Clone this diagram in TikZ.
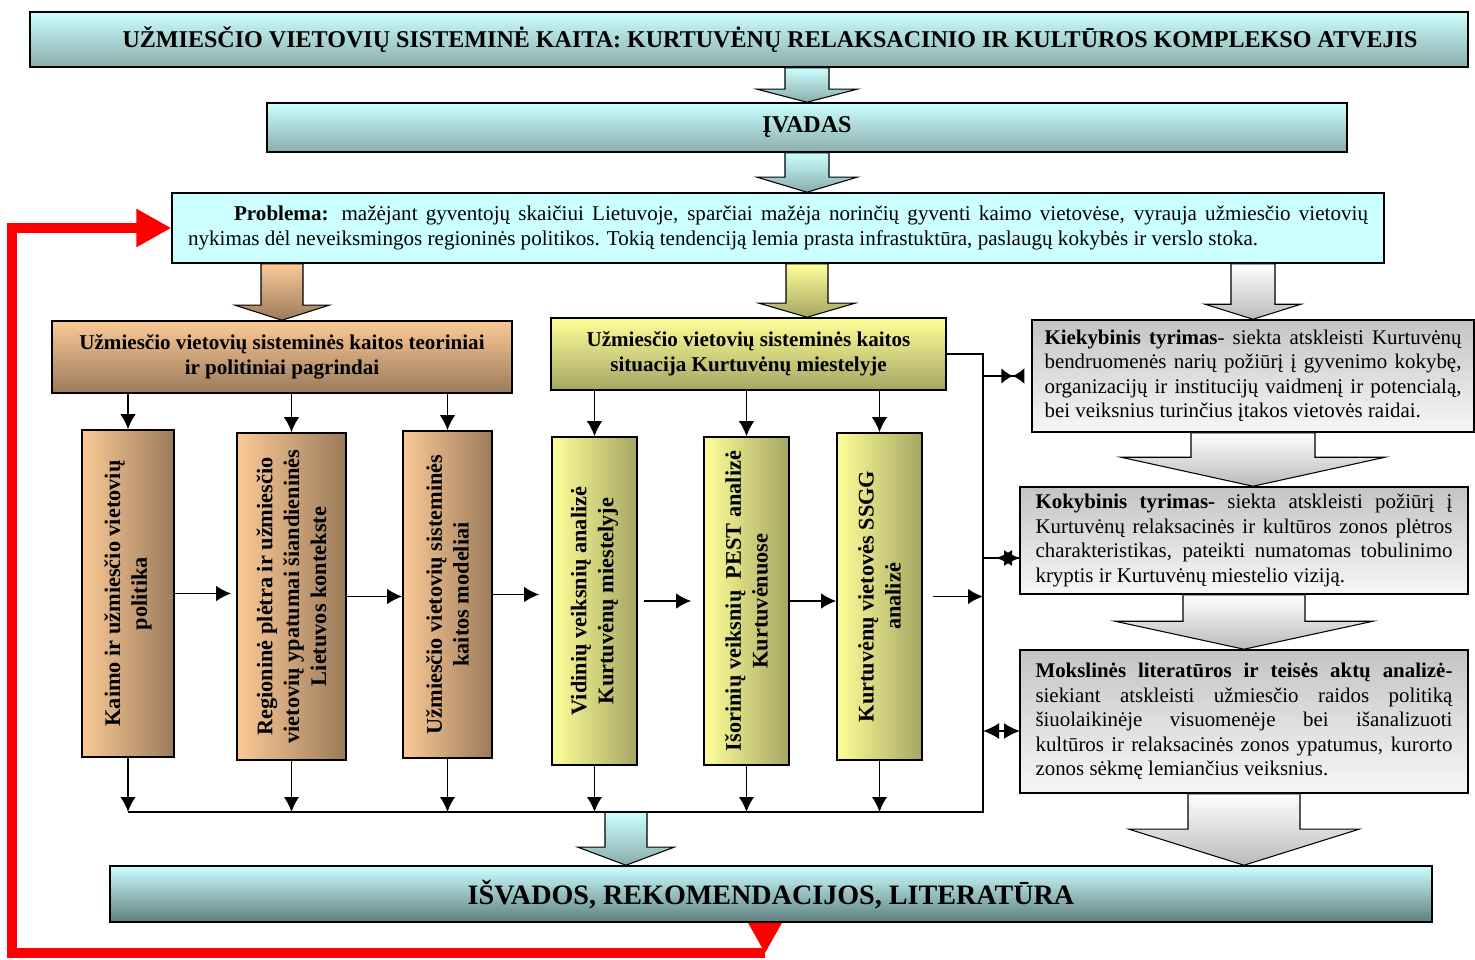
\documentclass[tikz,border=0pt]{standalone}
\usepackage{fontspec}
\setmainfont{Liberation Serif}
\usetikzlibrary{arrows.meta,calc}

\definecolor{cyanlt}{HTML}{CCFFFF}
\definecolor{cyandk}{HTML}{8AACAC}
\definecolor{cyandeep}{HTML}{5E7E7E}
\definecolor{brownlt}{HTML}{FBC996}
\definecolor{browndk}{HTML}{9B7B5B}
\definecolor{yellowlt}{HTML}{FFFF99}
\definecolor{yellowdk}{HTML}{A6A563}
\definecolor{graylt}{HTML}{F7F7F7}
\definecolor{graydk}{HTML}{C4C4C4}
\definecolor{fbred}{HTML}{FF0000}

% block arrow: style, start, tip, shaft half width, head half width, head length
\newcommand{\bigarrow}[6]{%
  \shade[#1] ($(#2)+(-#4,0)$) -- ($(#3)+(-#4,-#6)$) -- ($(#3)+(-#5,-#6)$) -- (#3)
    -- ($(#3)+(#5,-#6)$) -- ($(#3)+(#4,-#6)$) -- ($(#2)+(#4,0)$) -- cycle;}

\tikzset{
  box/.style={draw=black, line width=0.9pt, inner sep=0pt, align=center},
  cyanbox/.style={box, top color=cyanlt, bottom color=cyandk,
    font=\fontsize{13.7}{16}\selectfont\bfseries},
  hbrown/.style={box, top color=brownlt, bottom color=browndk,
    font=\fontsize{12}{14.2}\selectfont\bfseries},
  hyellow/.style={box, top color=yellowlt, bottom color=yellowdk,
    font=\fontsize{12}{14.2}\selectfont\bfseries},
  vbrown/.style={box, left color=brownlt, right color=browndk},
  vyellow/.style={box, left color=yellowlt, right color=yellowdk},
  vtext/.style={rotate=90, align=center, inner sep=0pt,
    font=\fontsize{12.7}{15.3}\selectfont\bfseries},
  rbox/.style={box, top color=graydk, bottom color=graylt, text width=8.34cm,
    align=justify, font=\fontsize{11.9}{13.9}\selectfont},
  conn/.style={line width=1.1pt, -{Latex[length=3mm,width=3.1mm]}},
  bus/.style={line width=1.1pt},
  bowtie/.style={line width=1.1pt, shorten >=1.4mm,
    -{Latex[length=2.3mm,width=3.2mm]Latex[reversed,length=2.3mm,width=3.2mm]}},
  twohead/.style={line width=1.1pt,
    {Latex[length=3.2mm,width=3.2mm]}-{Latex[length=3.2mm,width=3.2mm]}},
  feedback/.style={draw=fbred, line width=0.2cm, line join=miter,
    -{Triangle[length=0.7cm,width=0.72cm]}},
  cyanarrow/.style={draw=black, line width=0.6pt, top color=cyanlt, bottom color=cyandk},
  brownarrow/.style={draw=black, line width=0.6pt, top color=brownlt, bottom color=browndk},
  yellowarrow/.style={draw=black, line width=0.6pt, top color=yellowlt, bottom color=yellowdk},
  grayarrow/.style={draw=black, line width=0.6pt, top color=white, bottom color=black!27}
}

\begin{document}
\begin{tikzpicture}[x=0.02cm, y=-0.02cm]
\useasboundingbox (0,0) rectangle (1475,960);

% top row
\node[cyanbox, minimum width=28.76cm, minimum height=1.1cm] at (749, 39.5) (title)
  {\hspace*{0.84cm}UŽMIESČIO VIETOVIŲ SISTEMINĖ KAITA: KURTUVĖNŲ RELAKSACINIO IR KULTŪROS KOMPLEKSO ATVEJIS};
\node[cyanbox, minimum width=21.6cm, minimum height=0.98cm] at (807, 127.5) (ivadas) {ĮVADAS};
\node[box, fill=cyanlt, minimum width=24.24cm, minimum height=1.4cm, text width=23.6cm,
  align=justify, font=\fontsize{12}{14}\selectfont] at (778, 228) (problem)
  {\noindent\hspace*{0.92cm}\textbf{Problema:} mažėjant gyventojų skaičiui Lietuvoje, sparčiai mažėja norinčių gyventi kaimo vietovėse, vyrauja užmiesčio vietovių\linebreak nykimas dėl neveiksmingos regioninės politikos. Tokią tendenciją lemia prasta infrastuktūra, paslaugų kokybės ir verslo stoka.};

% headers
\node[hbrown, minimum width=9.2cm, minimum height=1.44cm] at (282, 357) (lhead)
  {Užmiesčio vietovių sisteminės kaitos teoriniai\\ir politiniai pagrindai};
\node[hyellow, minimum width=7.9cm, minimum height=1.44cm] at (748.5, 354) (mhead)
  {Užmiesčio vietovių sisteminės kaitos\\situacija Kurtuvėnų miestelyje};

% vertical boxes
\node[vbrown, minimum width=1.84cm, minimum height=6.54cm] at (128, 593.5) (b1) {};
\node[vbrown, minimum width=2.18cm, minimum height=6.54cm] at (291.5, 596.5) (b2) {};
\node[vbrown, minimum width=1.78cm, minimum height=6.54cm] at (447.5, 594.5) (b3) {};
\node[vyellow, minimum width=1.7cm, minimum height=6.56cm] at (594.5, 601) (y1) {};
\node[vyellow, minimum width=1.7cm, minimum height=6.56cm] at (746.5, 601) (y2) {};
\node[vyellow, minimum width=1.7cm, minimum height=6.54cm] at (879.5, 596.5) (y3) {};
\node[vtext] at (b1) (b1t) {Kaimo ir užmiesčio vietovių\\politika};
\node[vtext] at (b2) (b2t) {Regioninė plėtra ir užmiesčio\\vietovių ypatumai šiandieninės\\Lietuvos kontekste};
\node[vtext] at (b3) (b3t) {Užmiesčio vietovių sisteminės\\kaitos modeliai};
\node[vtext] at (y1) (y1t) {Vidinių veiksnių analizė\\Kurtuvėnų miestelyje};
\node[vtext] at (y2) (y2t) {Išorinių veiksnių\ \ PEST analizė\\Kurtuvėnuose};
\node[vtext] at (y3) (y3t) {Kurtuvėnų vietovės SSGG\\analizė};

% research boxes
\node[rbox, minimum width=8.84cm, minimum height=2.24cm] at (1253, 376) (r1)
  {\textbf{Kiekybinis tyrimas}- siekta atskleisti Kurtuvėnų\linebreak bendruomenės narių požiūrį į gyvenimo kokybę,\linebreak organizacijų ir institucijų vaidmenį ir potencialą,\linebreak bei veiksnius turinčius įtakos vietovės raidai.};
\node[rbox, minimum width=8.96cm, minimum height=2.14cm] at (1244, 540.5) (r2)
  {\textbf{Kokybinis tyrimas-} siekta atskleisti požiūrį į\linebreak Kurtuvėnų relaksacinės ir kultūros zonos plėtros\linebreak charakteristikas, pateikti numatomas tobulinimo\linebreak kryptis ir Kurtuvėnų miestelio viziją.};
\node[rbox, minimum width=8.96cm, minimum height=2.86cm] at (1244, 721.5) (r3)
  {\textbf{Mokslinės literatūros ir teisės aktų analizė-}\linebreak siekiant atskleisti užmiesčio raidos politiką\linebreak šiuolaikinėje visuomenėje bei išanalizuoti\linebreak kultūros ir relaksacinės zonos ypatumus, kurorto\linebreak zonos sėkmę lemiančius veiksnius.};

\node[cyanbox, bottom color=cyandeep, minimum width=26.44cm, minimum height=1.12cm,
  font=\fontsize{16}{19}\selectfont\bfseries] at (771, 894) (isv)
  {IŠVADOS, REKOMENDACIJOS, LITERATŪRA};

\coordinate (busbot) at (983, 812);
\coordinate (busmid) at (626, 812);
\coordinate (r2in) at (1020, 558);
\coordinate (r3in) at (1020, 731);
\coordinate (fbA) at (765, 953);
\coordinate (fbB) at (12, 228);
\coordinate (a1s) at (title.south -| ivadas.north);
\coordinate (a2t) at (problem.north -| ivadas.south);
\coordinate (a3s) at (problem.south -| lhead.north);
\coordinate (a4s) at (problem.south -| ivadas.south);
\coordinate (a4t) at (mhead.north -| ivadas.south);
\coordinate (a5s) at (problem.south -| r1.north);
\coordinate (a6t) at (r2.north -| r1.south);
\coordinate (a8t) at (isv.north -| r3.south);
\coordinate (a9t) at (isv.north -| busmid);
\coordinate (fbtop) at (isv.south -| fbA);

% block arrows
\bigarrow{cyanarrow}{a1s}{ivadas.north}{22}{50}{13}
\bigarrow{cyanarrow}{ivadas.south}{a2t}{22}{50}{15}
\bigarrow{brownarrow}{a3s}{lhead.north}{21}{47}{15}
\bigarrow{yellowarrow}{a4s}{a4t}{21}{48}{14}
\bigarrow{grayarrow}{a5s}{r1.north}{22}{48}{15}
\bigarrow{grayarrow}{r1.south}{a6t}{62}{132}{29}
\bigarrow{grayarrow}{r2.south}{r3.north}{61}{129}{28}
\bigarrow{grayarrow}{r3.south}{a8t}{56}{115}{36}
\bigarrow{cyanarrow}{busmid}{a9t}{21}{48}{18}

% thin connectors
\draw[bus] (mhead.east) -| (busbot) -- (busbot -| b1);
\path[conn]
  (lhead.south -| b1) edge (b1.north)
  (lhead.south -| b2) edge (b2.north)
  (lhead.south -| b3) edge (b3.north)
  (mhead.south -| y1) edge (y1.north)
  (mhead.south -| y2) edge (y2.north)
  (mhead.south -| y3) edge (y3.north)
  (b1.east) edge [shorten >=1mm] (b1.east -| b2.west)
  (b2.east) edge (b2.east -| b3.west)
  (b3.east) edge [shorten >=2.4mm] (b3.east -| y1.west)
  (y1.east) edge [shorten <=1.2mm, shorten >=2.4mm] (y1.east -| y2.west)
  (y2.east) edge (y2.east -| y3.west)
  (y3.east) edge [shorten <=2mm] (y3.east -| busbot)
  (b1.south) edge (b1.south |- busbot)
  (b2.south) edge (b2.south |- busbot)
  (b3.south) edge (b3.south |- busbot)
  (y1.south) edge (y1.south |- busbot)
  (y2.south) edge (y2.south |- busbot)
  (y3.south) edge (y3.south |- busbot);
\path (r1.west -| busbot) edge [bowtie] (r1.west);
\draw[bus] (r2in -| busbot) -- (r2in);
\path (r2in -| busbot) edge [twohead, shorten <=2.6mm] (r2in);
\path (r3in -| busbot) edge [twohead] (r3in);

% feedback loop
\fill[fbred] ($(fbtop)+(-17,0)$) -- ($(fbtop)+(17,0)$) -- (fbA) -- cycle;
\draw[feedback] (fbA) -| (fbB) -- (problem.west);
\end{tikzpicture}
\end{document}
